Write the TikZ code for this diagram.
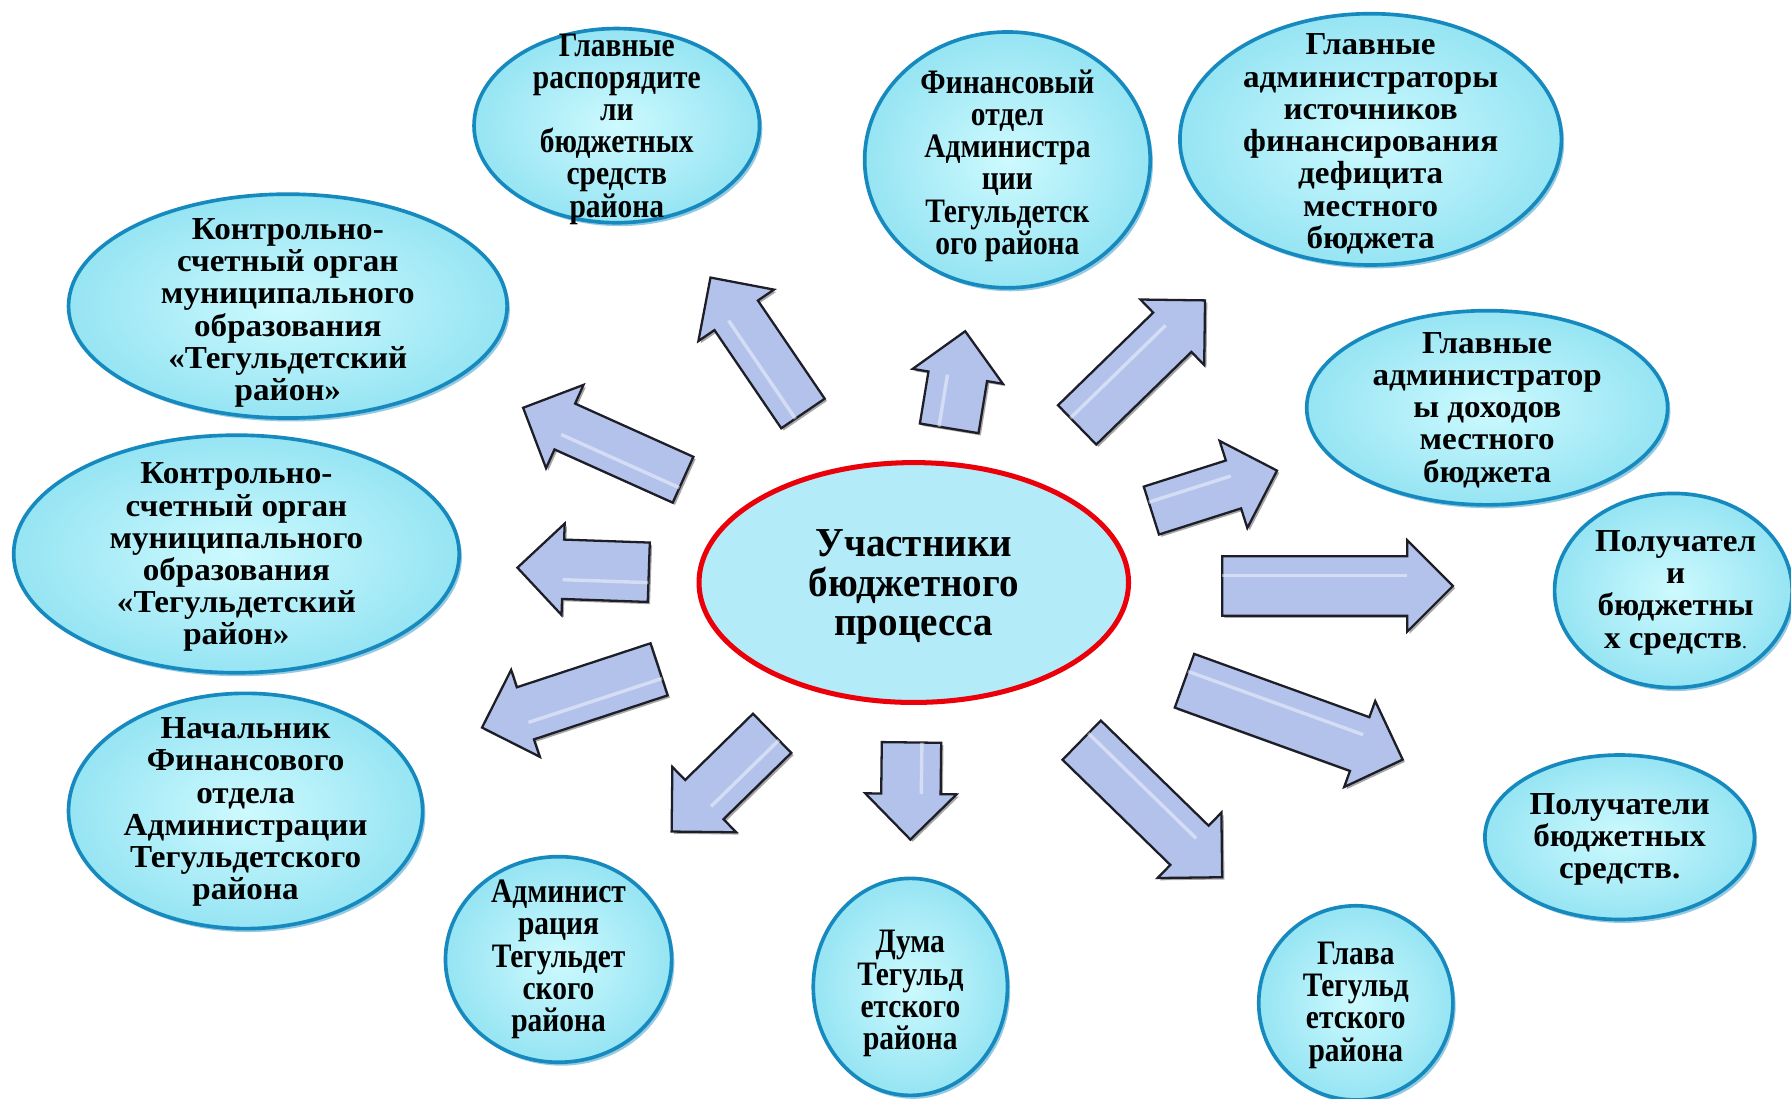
\documentclass[tikz,border=0pt]{standalone}
\usepackage{fontspec}
\setmainfont{Liberation Serif}
\newfontfamily\wideserif[FakeStretch=1.035]{Liberation Serif}
\newfontfamily\condfont[FakeStretch=0.86]{Liberation Serif}
\newfontfamily\cenfont[FakeStretch=0.95]{Liberation Serif}
\usetikzlibrary{shapes.geometric,calc,shadows}
\definecolor{bubin}{RGB}{205,250,254}
\definecolor{bubout}{RGB}{150,228,243}
\definecolor{bubedge}{RGB}{22,138,190}
\definecolor{cenfill}{RGB}{180,235,248}
\definecolor{cenedge}{RGB}{235,0,10}
\definecolor{arrfill}{RGB}{178,194,234}
\definecolor{arredge}{RGB}{30,30,40}
\tikzset{
  bub/.style={ellipse, draw=bubedge, line width=1.6pt, inner sep=0pt,
    inner color=bubin, outer color=bubout,
    drop shadow={shadow xshift=1.2pt, shadow yshift=-1.5pt, fill=bubedge, opacity=0.45}},
  txt/.style={align=center, inner sep=0pt, font=\wideserif\bfseries\fontsize{14}{14.1}\selectfont},
  ctxt/.style={align=center, inner sep=0pt, font=\condfont\bfseries\fontsize{15}{14.1}\selectfont},
  center/.style={ellipse, draw=cenedge, line width=2.2pt, fill=cenfill, inner sep=0pt},
  blockarr/.style={fill=arrfill, draw=arredge, line width=1pt, line join=miter,
    drop shadow={shadow xshift=1pt, shadow yshift=-1pt, fill=black, opacity=0.35}}
}
\newcommand{\barr}[4]{%
  \coordinate (#1t) at #2;
  \coordinate (#1p) at #3;
  \coordinate (#1b) at ($(#1p)!20pt!(#1t)$);
  \path[blockarr] ($(#1t)!#4!90:(#1p)$) -- ($(#1b)!#4!-90:(#1t)$) -- ($(#1b)!20pt!-90:(#1t)$)
    -- (#1p) -- ($(#1b)!20pt!90:(#1t)$) -- ($(#1b)!#4!90:(#1t)$) -- ($(#1t)!#4!-90:(#1p)$) -- cycle;
  \draw[white, opacity=0.45, line width=1.5pt] ($(#1t)!0.35*#4!90:(#1p)$) -- ($(#1b)!0.35*#4!-90:(#1t)$);
}
\begin{document}
\begin{tikzpicture}[x=0.5pt,y=-0.5pt]
\useasboundingbox (0,0) rectangle (1568,962);
\fill[white] (0,0) rectangle (1568,962);

% outer bubbles
\node[bub, minimum width=125pt, minimum height=85pt] (rasp) at (540,110) {};
\node[ctxt] (rasp-t) at (540,113) {Главные\\распорядите\\ли\\бюджетных\\средств\\района};

\node[bub, minimum width=125pt, minimum height=112pt] (fin) at (882,140) {};
\node[ctxt] (fin-t) at (882,145) {Финансовый\\отдел\\Администра\\ции\\Тегульдетск\\ого района};

\node[bub, minimum width=167pt, minimum height=110pt] (ist) at (1200,122) {};
\node[txt] (ist-t) at (1200,126) {Главные\\администраторы\\источников\\финансирования\\дефицита\\местного\\бюджета};

\node[bub, minimum width=192pt, minimum height=98pt] (ksp1) at (252,268) {};
\node[txt] (ksp1-t) at (252,274) {Контрольно-\\счетный орган\\муниципального\\образования\\«Тегульдетский\\район»};

\node[bub, minimum width=195pt, minimum height=104pt] (ksp2) at (207,485) {};
\node[txt] (ksp2-t) at (207,488) {Контрольно-\\счетный орган\\муниципального\\образования\\«Тегульдетский\\район»};

\node[bub, minimum width=155pt, minimum height=103pt] (nach) at (215,710) {};
\node[txt] (nach-t) at (215,711) {Начальник\\Финансового\\отдела\\Администрации\\Тегульдетского\\района};

\node[bub, minimum width=99pt, minimum height=90pt] (adm) at (489,840) {};
\node[ctxt] (adm-t) at (489,840) {Админист\\рация\\Тегульдет\\ского\\района};

\node[bub, minimum width=85pt, minimum height=95pt] (duma) at (797,864) {};
\node[ctxt] (duma-t) at (797,870) {Дума\\Тегульд\\етского\\района};

\node[bub, minimum width=85pt, minimum height=85pt] (glava) at (1187,878) {};
\node[ctxt] (glava-t) at (1187,880) {Глава\\Тегульд\\етского\\района};

\node[bub, minimum width=118pt, minimum height=72pt] (pol2) at (1418,733) {};
\node[txt] (pol2-t) at (1418,735) {Получатели\\бюджетных\\средств.};

\node[bub, minimum width=104pt, minimum height=85pt] (pol1) at (1465,517) {};
\node[txt] (pol1-t) at (1467,519) {Получател\\и\\бюджетны\\х средств{\mdseries\fontsize{9}{14}\selectfont.}};

\node[bub, minimum width=158pt, minimum height=85pt] (doh) at (1302,357) {};
\node[txt] (doh-t) at (1302,359) {Главные\\администратор\\ы доходов\\местного\\бюджета};

% center
\node[center, minimum width=188pt, minimum height=105pt] (cen) at (800,510) {};
\node[align=center, inner sep=0pt, font=\cenfont\bfseries\fontsize{18}{17.2}\selectfont] (cen-t) at (800,514) {Участники\\бюджетного\\процесса};

% block arrows
\barr{aA}{(703,362)}{(622,243)}{11.5pt}
\barr{aB}{(598,420)}{(458,357)}{11pt}
\barr{aC}{(568,501)}{(453,497)}{13pt}
\barr{aD}{(577,586)}{(422,637)}{12pt}
\barr{aE}{(676,642)}{(588,728)}{12pt}
\barr{aF}{(798,650)}{(797,735)}{13pt}
\barr{aG}{(947,648)}{(1070,768)}{12pt}
\barr{aH}{(1037,596)}{(1228,665)}{12.5pt}
\barr{aI}{(1070,513)}{(1272,513)}{13pt}
\barr{aJ}{(1008,447)}{(1118,412)}{11pt}
\barr{aK}{(943,372)}{(1055,263)}{12pt}
\barr{aL}{(831,375)}{(845,290)}{13pt}
\end{tikzpicture}
\end{document}
